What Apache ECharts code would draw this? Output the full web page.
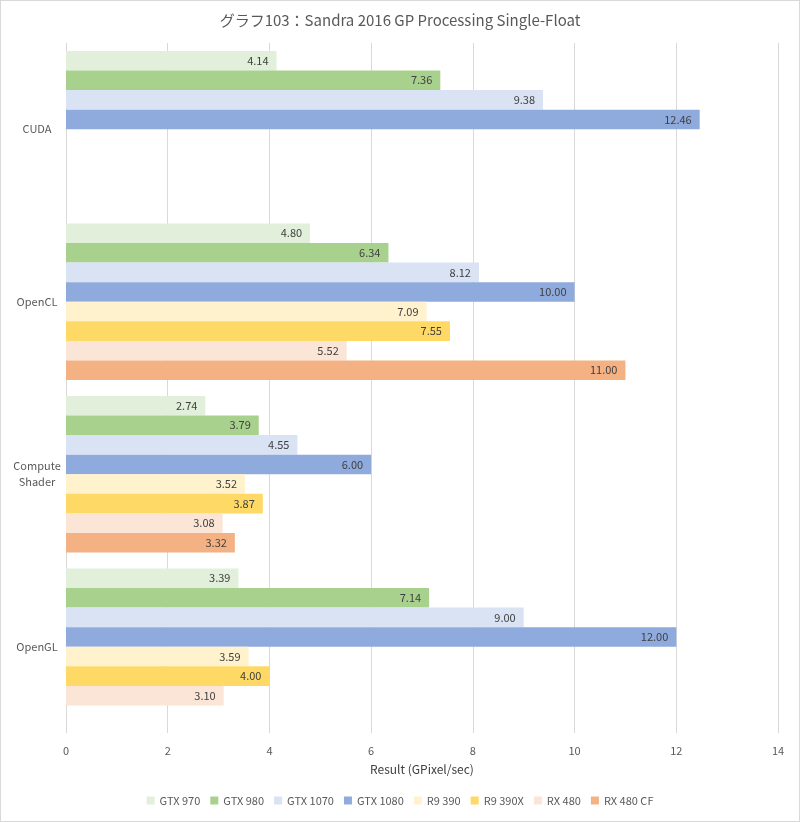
<!DOCTYPE html>
<html><head><meta charset="utf-8">
<script src="https://cdn.jsdelivr.net/npm/echarts@6/dist/echarts.min.js"></script>
<style>
html,body{margin:0;padding:0;background:#fff;}
#c{width:800px;height:822px;box-sizing:border-box;border:1px solid #d9d9d9;}
</style></head><body>
<div id="c"></div>
<script>
const categories = ['CUDA', 'OpenCL', 'Compute\nShader', 'OpenGL'];
const seriesNames = ['GTX 970', 'GTX 980', 'GTX 1070', 'GTX 1080', 'R9 390', 'R9 390X', 'RX 480', 'RX 480 CF'];
const gtx970 = [4.14, 4.80, 2.74, 3.39];
const gtx980 = [7.36, 6.34, 3.79, 7.14];
const gtx1070 = [9.38, 8.12, 4.55, 9.00];
const gtx1080 = [12.46, 10.00, 6.00, 12.00];
const r9390 = [null, 7.09, 3.52, 3.59];
const r9390x = [null, 7.55, 3.87, 4.00];
const rx480 = [null, 5.52, 3.08, 3.10];
const rx480cf = [null, 11.00, 3.32, null];
const xTicks = [0, 2, 4, 6, 8, 10, 12, 14];
const colors = ['#E2EFDA', '#A9D18E', '#DAE3F3', '#8FAADC', '#FFF2CC', '#FFD966', '#FBE5D6', '#F4B183'];

const allData = [gtx970, gtx980, gtx1070, gtx1080, r9390, r9390x, rx480, rx480cf];
const font = 'Noto Sans CJK JP, Noto Sans, sans-serif';
const chart = echarts.init(document.getElementById('c'), null, {renderer: 'canvas'});
chart.setOption({
  animation: false,
  color: colors,
  title: {
    text: 'グラフ103：Sandra 2016 GP Processing Single-Float',
    left: 'center', top: 7,
    textStyle: {fontFamily: font, fontSize: 15, fontWeight: 'normal', color: '#595959'}
  },
  legend: {
    data: seriesNames, bottom: 10, left: 'center',
    itemWidth: 8, itemHeight: 8, itemGap: 10, icon: 'rect',
    textStyle: {fontFamily: font, fontSize: 11, color: '#595959'}
  },
  grid: {left: 65, right: 21, top: 42, bottom: 88, containLabel: false},
  xAxis: {
    type: 'value', min: xTicks[0], max: xTicks[xTicks.length - 1], interval: 2,
    name: 'Result (GPixel/sec)', nameLocation: 'middle', nameGap: 30,
    nameTextStyle: {fontFamily: font, fontSize: 12, color: '#404040'},
    axisLine: {show: false}, axisTick: {show: false},
    axisLabel: {fontFamily: font, fontSize: 11, color: '#595959', margin: 12},
    splitLine: {lineStyle: {color: '#d9d9d9', width: 1}}
  },
  yAxis: {
    type: 'category', data: categories, inverse: true,
    axisLine: {show: false}, axisTick: {show: false},
    axisLabel: {fontFamily: font, fontSize: 11, color: '#595959', align: 'center', margin: 29, lineHeight: 16}
  },
  series: seriesNames.map((n, i) => ({
    name: n, type: 'bar', data: allData[i],
    barGap: '0%', barCategoryGap: '9.2%',
    itemStyle: {color: colors[i]},
    label: {
      show: true, position: 'insideRight', distance: 8,
      formatter: p => p.value == null ? '' : Number(p.value).toFixed(2),
      fontFamily: font, fontSize: 11, color: '#404040'
    }
  }))
});
</script>
</body></html>
